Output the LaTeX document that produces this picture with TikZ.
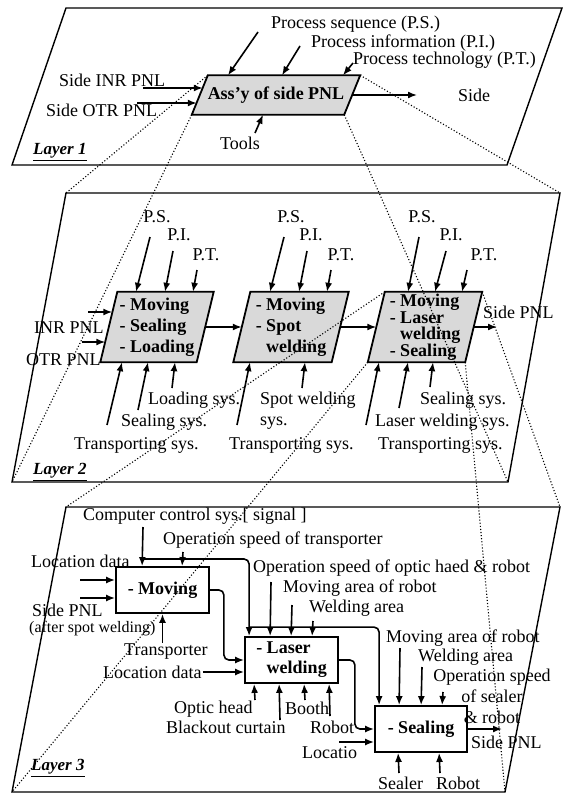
\documentclass[tikz,border=0pt]{standalone}
\usepackage{fontspec}
\setmainfont{Liberation Serif}
\usetikzlibrary{arrows.meta,calc,backgrounds}
\tikzset{
 lbl/.style={anchor=west, inner sep=1pt, font=\fontsize{18}{21}\selectfont},
 small/.style={lbl, font=\fontsize{16}{18}\selectfont},
 layerlbl/.style={anchor=west, inner sep=1pt, font=\bfseries\itshape\fontsize{17}{20}\selectfont},
 pbox/.style={minimum height=70pt, inner sep=0pt, align=left, font=\bfseries\fontsize{18}{21}\selectfont},
 slantfill/.style={draw, fill=black!15, line width=1.8pt},
 box/.style={draw, fill=white, line width=1.8pt, minimum height=46pt, inner sep=0pt, align=left, font=\bfseries\fontsize{18}{20}\selectfont},
 plane/.style={line width=1.4pt},
 proj/.style={dotted, line width=1.1pt},
 arrow/.style={-{Latex[length=9pt,width=7pt]}, line width=1.6pt}
}
\newcommand{\slantbox}[2]{\filldraw[slantfill] ([xshift=#2]#1.north west) -- ([xshift=#2]#1.north east) -- ([xshift=-#2]#1.south east) -- ([xshift=-#2]#1.south west) -- cycle;}

\begin{document}
\begin{tikzpicture}[x=1pt,y=-1pt]
\useasboundingbox (0,0) rectangle (564,797);
% layer planes
\coordinate (l1nw) at (66,8);    \coordinate (l1ne) at (562,8);   \coordinate (l1se) at (507,165); \coordinate (l1sw) at (12,165);
\coordinate (l2nw) at (66,193);  \coordinate (l2ne) at (560,193); \coordinate (l2se) at (508,482); \coordinate (l2sw) at (12,482);
\coordinate (l3nw) at (66,507);  \coordinate (l3ne) at (560,507); \coordinate (l3se) at (505,792); \coordinate (l3sw) at (12,792);
\draw[plane] (l1nw) -- (l1ne) -- (l1se) -- (l1sw) -- cycle;
\draw[plane] (l2nw) -- (l2ne) -- (l2se) -- (l2sw) -- cycle;
\draw[plane] (l3nw) -- (l3ne) -- (l3se) -- (l3sw) -- cycle;

% layer 1
\node[pbox,minimum width=152pt,minimum height=39pt] (assy) at (276,95) {Ass’y of side PNL};
\node[lbl] (ps0) at (270,24) {Process sequence (P.S.)};
\node[lbl] (pi0) at (310,43) {Process information (P.I.)};
\node[lbl] (pt0) at (352,60) {Process technology (P.T.)};
\node[lbl] (inr0) at (58,80) {Side INR PNL};
\node[lbl] (otr0) at (45,110) {Side OTR PNL};
\node[lbl] (side0) at (457,95) {Side};
\node[lbl,anchor=center] (tools) at (240,143) {Tools};
\node[layerlbl] (layer1) at (32,152) {\underline{Layer 1}};
\coordinate (ps0t) at (258,32); \coordinate (pi0t) at (300,46); \coordinate (pt0t) at (353,63);
\coordinate (inr0t) at (143,88); \coordinate (otr0t) at (137,103); \coordinate (toolst) at (255,133);
\draw[arrow] (ps0t) -- ($(assy.north)+(-48,0)$);
\draw[arrow] (pi0t) -- ($(assy.north)+(6,0)$);
\draw[arrow] (pt0t) -- ($(assy.north)+(67,0)$);
\draw[arrow] (inr0t) -- ($(assy.west)+(3,-7)$);
\draw[arrow] (otr0t) -- ($(assy.west)+(-3,8)$);
\draw[arrow] (toolst) -- ($(assy.south)+(-13,0)$);
\draw[arrow, shorten >=40pt] (assy.east) -- (side0.west);

% layer 2
\node[pbox,minimum width=96pt] (load) at (157,327) {- Moving\\- Sealing\\- Loading};
\node[pbox,minimum width=98pt] (spot) at (291,327) {- Moving\\- Spot\\\phantom{- }welding};
\node[pbox,minimum width=97pt,font=\bfseries\fontsize{18}{16.5}\selectfont] (weld) at (425,327) {- Moving\\- Laser\\\phantom{- }welding\\- Sealing};
\node[lbl,anchor=center] (ps1) at (157,217) {P.S.};
\node[lbl,anchor=center] (pi1) at (179,235) {P.I.};
\node[lbl,anchor=center] (pt1) at (206,255) {P.T.};
\node[lbl,anchor=center] (ps2) at (291,217) {P.S.};
\node[lbl,anchor=center] (pi2) at (311,235) {P.I.};
\node[lbl,anchor=center] (pt2) at (341,255) {P.T.};
\node[lbl,anchor=center] (ps3) at (422,217) {P.S.};
\node[lbl,anchor=center] (pi3) at (451,235) {P.I.};
\node[lbl,anchor=center] (pt3) at (484,255) {P.T.};
\node[lbl] (inr1) at (33,328) {INR PNL};
\node[lbl] (otr1) at (25,360) {OTR PNL};
\node[lbl] (side2) at (482,312) {Side PNL};
\node[lbl] (ldsys) at (147,400) {Loading sys.};
\node[lbl] (slsys1) at (120,422) {Sealing sys.};
\node[lbl] (trsys1) at (73,445) {Transporting sys.};
\node[lbl,align=left] (swsys) at (259,411) {Spot welding\\sys.};
\node[lbl] (trsys2) at (228,445) {Transporting sys.};
\node[lbl] (slsys3) at (419,400) {Sealing sys.};
\node[lbl] (lwsys) at (374,422) {Laser welding sys.};
\node[lbl] (trsys3) at (377,445) {Transporting sys.};
\node[layerlbl] (layer2) at (32,472) {\underline{Layer 2}};
\coordinate (ps1t) at (150,237); \coordinate (pi1t) at (173,251); \coordinate (pt1t) at (197,270);
\coordinate (ps2t) at (284,237); \coordinate (pi2t) at (307,251); \coordinate (pt2t) at (331,270);
\coordinate (ps3t) at (419,237); \coordinate (pi3t) at (446,251); \coordinate (pt3t) at (467,270);
\coordinate (inr1t) at (88,312); \coordinate (otr1t) at (82,342); \coordinate (out2) at (497,327);
\coordinate (tr1t) at (107,425); \coordinate (sl1t) at (138,410); \coordinate (ld1t) at (172,388);
\coordinate (tr2t) at (237,425); \coordinate (sw2t) at (302,388);
\coordinate (tr3t) at (366,425); \coordinate (lw3t) at (399,408); \coordinate (sl3t) at (430,387);
\draw[arrow] (ps1t) -- ($(load.north)+(-21,0)$);
\draw[arrow] (pi1t) -- ($(load.north)+(8,0)$);
\draw[arrow] (pt1t) -- ($(load.north)+(36,0)$);
\draw[arrow] (ps2t) -- ($(spot.north)+(-21,0)$);
\draw[arrow] (pi2t) -- ($(spot.north)+(8,0)$);
\draw[arrow] (pt2t) -- ($(spot.north)+(36,0)$);
\draw[arrow] (ps3t) -- ($(weld.north)+(-17,0)$);
\draw[arrow] (pi3t) -- ($(weld.north)+(10,0)$);
\draw[arrow] (pt3t) -- ($(weld.north)+(37,0)$);
\draw[arrow] (inr1t) -- ($(load.west)+(3.5,-15)$);
\draw[arrow] (otr1t) -- ($(load.west)+(-3.5,15)$);
\draw[arrow] (load) -- (spot);
\draw[arrow] (spot) -- (weld);
\draw[arrow] (weld) -- (out2);
\draw[arrow] (tr1t) -- ($(load.south)+(-35,0)$);
\draw[arrow] (sl1t) -- ($(load.south)+(-9,0)$);
\draw[arrow] (ld1t) -- ($(load.south)+(18,0)$);
\draw[arrow] (tr2t) -- ($(spot.south)+(-41,0)$);
\draw[arrow] (sw2t) -- ($(spot.south)+(14,0)$);
\draw[arrow] (tr3t) -- ($(weld.south)+(-46,0)$);
\draw[arrow] (lw3t) -- ($(weld.south)+(-17,0)$);
\draw[arrow] (sl3t) -- ($(weld.south)+(8,0)$);

% layer 3
\node[box,minimum width=93pt] (moving) at (162.5,590) {- Moving};
\node[box,minimum width=93pt] (laser) at (291.5,660) {- Laser\\\phantom{- }welding};
\node[box,minimum width=92pt] (sealing) at (421,729) {- Sealing};
\node[lbl] (ccs) at (82,516) {Computer control sys.[ signal ]};
\node[lbl] (ost) at (162,540) {Operation speed of transporter};
\node[lbl] (loc1) at (30,561) {Location data};
\node[lbl] (side3) at (31,610) {Side PNL};
\node[small] (after) at (28,629) {(after spot welding)};
\node[lbl] (transp) at (123,652) {Transporter};
\node[lbl] (loc2) at (102,672) {Location data};
\node[lbl] (osoh) at (252,568) {Operation speed of optic haed \& robot};
\node[lbl] (mar1) at (282,588) {Moving area of robot};
\node[lbl] (wa1) at (308,608) {Welding area};
\node[lbl] (optic) at (173,709) {Optic head};
\node[lbl] (black) at (165,727) {Blackout curtain};
\node[lbl] (booth) at (284,708) {Booth};
\node[lbl] (robot1) at (309,727) {Robot};
\node[lbl] (mar2) at (385,638) {Moving area of robot};
\node[lbl] (wa2) at (417,657) {Welding area};
\node[lbl,anchor=center,align=center] (ossr) at (492,696) {Operation speed\\of sealer\\\& robot};
\node[lbl] (locatio) at (301,753) {Locatio};
\node[lbl] (side4) at (470,742) {Side PNL};
\node[lbl] (sealer) at (377,783) {Sealer};
\node[lbl] (robot2) at (435,783) {Robot};
\node[layerlbl] (layer3) at (30,768) {\underline{Layer 3}};
\coordinate (cct) at (143,527); \coordinate (ccj) at (143,559); \coordinate (ostt) at (183,552);
\coordinate (loc1t) at (80,580); \coordinate (side3t) at (80,598);
\coordinate (osoht) at (271,582); \coordinate (mar1t) at (292,605); \coordinate (wa1t) at (313,621);
\coordinate (optict) at (255,700); \coordinate (blackt) at (280,720); \coordinate (bootht) at (305,700); \coordinate (robot1t) at (330,716);
\coordinate (mar2t) at (400,648); \coordinate (wa2t) at (422,667); \coordinate (ossrt) at (443,692);
\coordinate (locatiot) at (339,742); \coordinate (out3) at (502,729);
\coordinate (sealert) at (399,773); \coordinate (robot2t) at (440,773);
\draw[arrow] (cct) -- ($(moving.north west)+(27,0)$);
\draw[arrow] (ostt) -- ($(moving.north west)+(67,0)$);
\draw[arrow, rounded corners=5pt] (ccj) -| ($(laser.north west)+(5,0)$);
\draw[arrow, rounded corners=5pt] ($(laser.north west)+(5,-9)$) -| ($(sealing.north west)+(5,0)$);
\draw[arrow] (loc1t) -- ($(moving.west)+(0,-10)$);
\draw[arrow] (side3t) -- ($(moving.west)+(0,8)$);
\draw[arrow] (transp.north -| moving.south) -- (moving.south);
\draw[arrow, rounded corners=5pt] (moving.east) -- ++(14,0) |- (laser.west);
\draw[arrow] (loc2.east) -- (loc2.east -| laser.west);
\draw[arrow] (osoht) -- ($(laser.north west)+(26,0)$);
\draw[arrow] (mar1t) -- ($(laser.north west)+(47,0)$);
\draw[arrow] (wa1t) -- ($(laser.north west)+(68,0)$);
\draw[arrow] (optict) -- ($(laser.south west)+(10,0)$);
\draw[arrow] (blackt) -- ($(laser.south west)+(35,0)$);
\draw[arrow] (bootht) -- ($(laser.south west)+(60,0)$);
\draw[arrow] (robot1t) -- ($(laser.south west)+(85,0)$);
\draw[arrow, rounded corners=5pt] (laser.east) -- ++(16,0) |- (sealing.west);
\draw[arrow] (locatiot) -- ($(sealing.west)+(0,13)$);
\draw[arrow] (mar2t) -- ($(sealing.north west)+(25,0)$);
\draw[arrow] (wa2t) -- ($(sealing.north west)+(47,0)$);
\draw[arrow] (ossrt) -- ($(sealing.north west)+(68,0)$);
\draw[arrow] (sealing) -- (out3);
\draw[arrow] (sealert) -- ($(sealing.south west)+(24,0)$);
\draw[arrow] (robot2t) -- ($(sealing.south west)+(65,0)$);

% slanted boxes
\begin{scope}[on background layer]
\slantbox{assy}{8pt}
\slantbox{load}{8.5pt}
\slantbox{spot}{8.5pt}
\slantbox{weld}{8.5pt}
\end{scope}

% projection lines
\draw[proj] ([xshift=8pt]assy.north west) -- (l2nw);
\draw[proj] ([xshift=8pt]assy.north east) -- (l2ne);
\draw[proj] ([xshift=-8pt]assy.south east) -- (l2se);
\draw[proj] ([xshift=-8pt]assy.south west) -- (l2sw);
\draw[proj] ([xshift=8.5pt]weld.north west) -- (l3nw);
\draw[proj] ([xshift=8.5pt]weld.north east) -- (l3ne);
\draw[proj] ([xshift=-8.5pt]weld.south east) -- (l3se);
\draw[proj] ([xshift=-8.5pt]weld.south west) -- (l3sw);
\end{tikzpicture}
\end{document}
